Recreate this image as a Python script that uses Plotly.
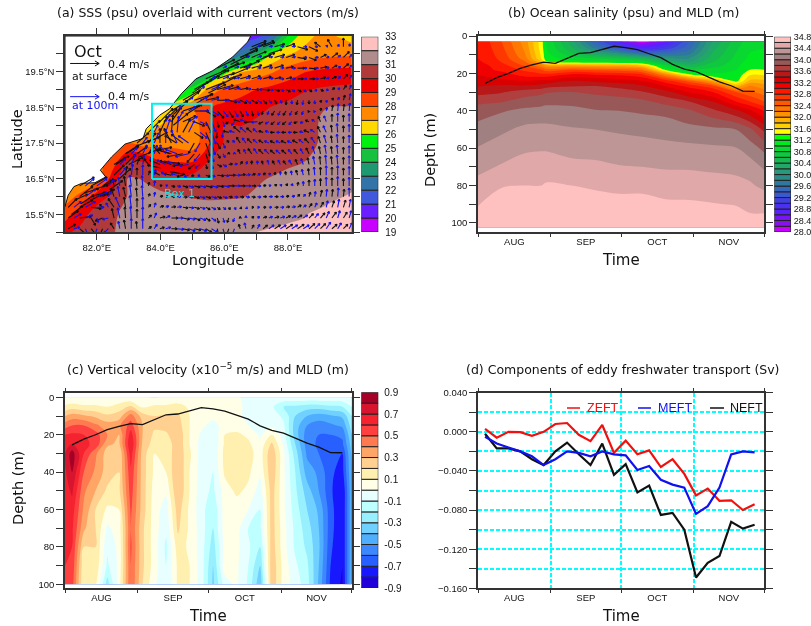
import plotly.graph_objects as go

W, H = 811, 626

# ---------- panel (a): SSS and currents ----------
SSS_LON = [81, 81.5, 82, 82.5, 83, 83.5, 84, 84.5, 85, 85.5, 86, 86.5, 87, 87.5, 88, 88.5, 89, 89.5, 90]
SSS_LAT = [15, 15.5, 16, 16.5, 17, 17.5, 18, 18.5, 19, 19.5, 20, 20.5]
SSS = [
 [29.8,30.3,30.7,30.95,31.3,31.4,31.45,31.5,31.5,31.55,31.6,31.7,32.0,32.1,32.2,32.2,32.3,32.4,32.5],
 [28.5,29.6,30.5,30.95,31.1,31.3,31.4,31.4,31.4,31.4,31.5,31.5,31.6,31.7,31.8,31.95,32.2,32.4,32.5],
 [27.5,28.3,29.5,30.2,31.1,31.2,31.2,31.1,30.95,30.9,30.9,30.95,31.1,31.2,31.3,31.4,31.6,31.9,32.1],
 [27,27,27.5,29.5,31.1,30.95,30.6,30.4,30.4,30.4,30.5,30.7,30.9,31.05,31.2,31.3,31.4,31.6,31.7],
 [27,27,27.5,28.5,30.1,29.9,29.0,28.9,28.9,30.0,30.3,30.5,30.6,30.7,30.85,30.98,31.2,31.4,31.5],
 [27,27,27,27.5,28,27.5,27.7,27.6,27.4,28.9,30.1,30.25,30.3,30.4,30.5,30.7,31.05,31.2,31.3],
 [26,26,26,26,26,26.5,27,27.5,27.4,28.8,30.05,29.98,30.2,30.3,30.4,30.6,31.05,31.1,31.2],
 [25,25,25,25,25,25,26,27,27.8,28.9,29.3,29.5,29.7,30.05,30.3,30.5,30.95,31.05,31.05],
 [23,23,23,23,23,23,23,24,25.5,27.3,28.2,28.6,29.0,29.3,29.5,29.9,30.1,30.2,30.3],
 [22,22,22,22,22,22,22,22,22,23.5,25.6,26.9,27.4,27.9,28.5,28.95,29.2,29.3,29.3],
 [21,21,21,21,21,21,21,21,21,21,21,22.5,24,26,26.9,27.3,27.6,27.75,27.8],
 [20,20,20,20,20,20,20,20,20,20,20,20,20.5,22,25,26.6,27.2,27,26.5],
]
SSS_LEVELS = list(range(19, 34))
SSS_COLORS = ["#C800FF","#6A1FFF","#3F58DC","#3274A8","#1F9A70","#18C040","#00F010","#FFD800",
              "#FF8800","#FF4400","#EE0000","#B03A3A","#B08C8C","#FFC0C0"]
COAST_LON = [81.0,81.1,81.28,81.52,81.94,82.28,82.11,82.46,82.88,83.45,83.55,83.97,84.28,84.65,85.11,85.64,86.26,86.73,86.83]
COAST_LAT = [15.72,16.04,16.28,16.37,16.39,16.55,16.74,17.11,17.47,17.63,17.9,18.28,18.46,18.88,19.3,19.53,19.91,20.33,20.5]

VEC_LON = [81.1,81.46,81.82,82.18,82.54,82.9,83.26,83.62,83.98,84.34,84.7,85.06,85.42,85.78,86.14,86.5,86.86,87.22,87.58,87.94,88.3,88.66,89.02,89.38,89.74]
DEEP_LON = [81.28,81.64,82.0,82.36,82.72,83.08,83.44,83.8,84.16,84.52,84.88,85.24,85.6,85.96,86.32,86.68,87.04,87.4,87.76,88.12,88.48,88.84,89.2,89.56,89.92]
VEC_LAT = [15.1,15.4,15.7,16.0,16.3,16.6,16.9,17.2,17.5,17.8,18.1,18.4,18.7,19.0,19.3,19.6,19.9,20.2]
# current components in cm/s; 0,0 marks land
U_SURF = [
 [10,14,12,-6,-5,-2,-1,4,6,8,9,9,8,2,-4,-2,3,6,8,9,9,8,7,7,6],
 [14,16,6,-10,-3,-1,0,4,7,9,9,8,6,2,-2,0,3,5,6,6,6,6,6,6,5],
 [12,18,14,-4,-8,-2,0,3,5,6,7,7,6,4,2,2,3,4,5,5,5,4,4,3,3],
 [0,18,20,8,-4,-3,-1,2,4,5,6,7,7,6,5,5,5,5,5,4,3,2,2,1,1],
 [0,20,22,12,-2,-2,-1,1,3,5,7,8,9,9,8,7,6,4,3,2,1,0,0,0,0],
 [0,0,0,0,14,2,0,2,-8,-10,-8,-4,6,9,9,7,5,3,1,-1,-2,-1,0,0,0],
 [0,0,0,0,16,14,3,-6,-14,-16,-14,-8,2,6,5,3,0,-2,-3,-4,-3,-2,-1,-1,0],
 [0,0,0,0,0,18,14,6,-10,-20,-22,-10,4,4,0,-3,-5,-6,-6,-6,-5,-4,-2,-1,0],
 [0,0,0,0,0,0,16,10,0,-10,-16,-8,6,4,-2,-5,-6,-6,-6,-7,-7,-6,-3,-1,0],
 [0,0,0,0,0,0,0,16,10,2,10,12,8,-1,-8,-9,-7,-6,-6,-6,-6,-7,-4,-1,0],
 [0,0,0,0,0,0,0,0,18,14,18,14,8,2,-4,-9,-10,-6,-5,-5,-5,-5,-3,0,0],
 [0,0,0,0,0,0,0,0,0,22,24,20,14,9,6,4,2,-2,-4,-4,-3,-1,1,1,1],
 [0,0,0,0,0,0,0,0,0,0,24,24,18,14,11,9,8,5,3,0,-1,0,1,2,2],
 [0,0,0,0,0,0,0,0,0,0,0,24,26,22,14,11,10,9,7,6,5,4,4,4,4],
 [0,0,0,0,0,0,0,0,0,0,0,0,28,24,18,14,12,11,9,8,8,8,7,6,6],
 [0,0,0,0,0,0,0,0,0,0,0,0,0,24,22,16,14,12,12,10,10,10,9,7,7],
 [0,0,0,0,0,0,0,0,0,0,0,0,0,0,0,24,20,16,14,12,12,10,8,8,8],
 [0,0,0,0,0,0,0,0,0,0,0,0,0,0,0,0,20,16,14,12,14,12,-8,-6,0],
]
V_SURF = [
 [6,-12,-14,-14,8,12,10,3,2,0,-2,-2,-5,-10,-12,6,5,5,5,6,6,7,7,6,6],
 [10,2,-10,-4,13,15,12,4,2,0,-2,-3,-4,-7,-6,2,2,2,2,3,4,6,7,8,8],
 [12,10,-2,4,12,14,12,4,2,1,-1,-2,-3,-3,-3,-2,0,0,0,1,3,5,7,9,10],
 [0,14,6,4,11,13,12,4,1,0,-1,-2,-2,-2,-1,-1,-1,0,0,1,3,6,9,10,10],
 [0,12,12,8,10,13,12,5,1,-1,-2,-2,-2,-1,0,0,0,1,2,3,5,8,10,11,10],
 [0,0,0,0,14,12,10,6,4,2,-2,-1,-2,-1,0,1,2,3,4,5,7,9,11,11,10],
 [0,0,0,0,10,14,8,8,6,5,-2,-6,-6,-3,1,4,5,5,5,5,7,9,11,11,10],
 [0,0,0,0,0,12,10,10,12,6,-4,-12,-12,-6,2,6,7,6,5,5,6,8,10,10,9],
 [0,0,0,0,0,0,14,14,20,20,12,-14,-18,-8,4,8,6,4,3,3,4,6,9,10,9],
 [0,0,0,0,0,0,0,16,22,24,18,-8,-18,-8,2,8,6,2,0,0,0,3,8,10,9],
 [0,0,0,0,0,0,0,0,18,20,8,-6,-16,-8,-3,3,-1,-3,-4,-4,-2,2,7,10,9],
 [0,0,0,0,0,0,0,0,0,14,8,0,-8,-10,-9,-8,-7,-5,-6,-6,-5,-2,4,8,9],
 [0,0,0,0,0,0,0,0,0,0,14,8,4,0,-3,-4,-4,-5,-5,-6,-6,-5,-3,3,7],
 [0,0,0,0,0,0,0,0,0,0,0,14,10,6,4,2,0,-1,-2,-3,-3,-3,-2,2,6],
 [0,0,0,0,0,0,0,0,0,0,0,0,12,8,6,4,4,3,2,2,0,0,2,3,6],
 [0,0,0,0,0,0,0,0,0,0,0,0,0,12,8,6,4,4,4,2,0,-1,2,4,6],
 [0,0,0,0,0,0,0,0,0,0,0,0,0,0,0,10,8,6,4,4,-2,-4,4,6,8],
 [0,0,0,0,0,0,0,0,0,0,0,0,0,0,0,0,8,6,4,4,-4,-6,6,10,12],
]
U_DEEP = [
 [8,4,-3,-6,-2,0,0,4,7,9,9,9,8,3,-4,-2,3,7,8,8,8,7,6,5,4],
 [10,10,2,-8,-3,-1,0,3,6,8,9,8,6,2,-2,0,3,5,6,6,6,5,4,3,3],
 [10,14,10,-3,-6,-2,0,2,4,6,7,7,6,4,2,2,3,4,5,5,4,3,2,2,2],
 [0,14,14,4,-3,-2,-1,1,3,5,6,7,7,6,5,5,5,5,5,4,3,1,1,1,0],
 [0,12,14,8,-2,-2,-1,1,3,5,7,8,9,9,8,7,5,3,2,1,0,0,0,0,0],
 [0,0,0,0,8,2,0,2,-6,-8,-6,-3,5,8,8,6,4,2,0,-1,-2,-1,0,0,0],
 [0,0,0,0,8,6,2,-5,-12,-14,-12,-7,2,5,4,2,0,-2,-3,-4,-3,-2,-1,-1,0],
 [0,0,0,0,0,8,6,4,-8,-16,-18,-8,3,3,0,-3,-5,-6,-6,-5,-4,-3,-2,-1,0],
 [0,0,0,0,0,0,6,6,0,-8,-14,-7,5,3,-2,-5,-6,-6,-6,-6,-6,-5,-3,-1,0],
 [0,0,0,0,0,0,0,5,6,2,8,10,6,-1,-7,-8,-6,-5,-5,-5,-5,-6,-4,-1,0],
 [0,0,0,0,0,0,0,0,6,8,12,11,6,2,-4,-8,-8,-5,-4,-4,-4,-4,-3,0,0],
 [0,0,0,0,0,0,0,0,0,6,10,12,10,7,5,3,2,-2,-3,-3,-2,-1,1,1,1],
 [0,0,0,0,0,0,0,0,0,0,6,10,10,9,8,7,6,4,2,0,-1,0,1,2,2],
 [0,0,0,0,0,0,0,0,0,0,0,6,10,10,8,7,7,6,5,4,4,3,3,3,3],
 [0,0,0,0,0,0,0,0,0,0,0,0,6,8,7,6,6,6,5,5,5,5,4,4,4],
 [0,0,0,0,0,0,0,0,0,0,0,0,0,5,6,6,5,5,5,5,5,5,4,4,4],
 [0,0,0,0,0,0,0,0,0,0,0,0,0,0,0,5,6,5,5,5,5,5,4,4,4],
 [0,0,0,0,0,0,0,0,0,0,0,0,0,0,0,0,4,5,5,5,5,4,2,2,1],
]
V_DEEP = [
 [2,-10,-10,-6,10,14,14,6,2,-1,-3,-3,-5,-10,-10,8,6,5,5,5,5,7,9,8,8],
 [6,4,-6,-2,14,16,15,7,3,0,-2,-3,-4,-6,-5,3,2,2,2,3,4,6,9,10,10],
 [8,8,0,6,14,16,14,6,2,1,-1,-2,-3,-3,-3,-2,0,0,0,1,3,6,9,11,11],
 [0,10,6,6,14,16,15,6,1,0,-1,-2,-2,-2,-1,-1,-1,0,0,1,3,7,10,12,12],
 [0,10,10,8,12,15,14,7,1,-1,-2,-2,-2,-1,0,0,0,1,2,3,6,9,12,13,12],
 [0,0,0,0,10,15,14,8,4,2,-2,-1,-2,-1,0,1,2,3,5,6,8,11,13,13,12],
 [0,0,0,0,8,14,12,10,6,4,-2,-5,-6,-3,1,4,5,6,6,6,8,11,13,13,12],
 [0,0,0,0,0,8,12,12,12,6,-4,-10,-11,-5,2,6,7,6,5,6,7,10,12,12,11],
 [0,0,0,0,0,0,8,14,18,18,10,-12,-16,-7,4,7,5,3,3,3,5,8,11,12,11],
 [0,0,0,0,0,0,0,10,18,22,16,-8,-16,-7,2,7,5,2,0,0,1,4,9,12,11],
 [0,0,0,0,0,0,0,0,10,14,7,-5,-14,-7,-5,3,-1,-3,-4,-4,-2,3,8,12,11],
 [0,0,0,0,0,0,0,0,0,6,6,0,-6,-8,-8,-7,-6,-5,-6,-6,-5,-2,5,10,11],
 [0,0,0,0,0,0,0,0,0,0,4,4,2,0,-3,-4,-4,-4,-4,-5,-6,-5,-3,4,9],
 [0,0,0,0,0,0,0,0,0,0,0,4,4,3,2,1,0,-1,-2,-3,-3,-2,-1,2,6],
 [0,0,0,0,0,0,0,0,0,0,0,0,3,3,2,2,1,1,0,0,0,0,2,3,5],
 [0,0,0,0,0,0,0,0,0,0,0,0,0,3,2,2,1,1,1,0,0,0,1,2,4],
 [0,0,0,0,0,0,0,0,0,0,0,0,0,0,0,2,2,1,1,1,0,0,1,3,4],
 [0,0,0,0,0,0,0,0,0,0,0,0,0,0,0,0,2,1,1,1,0,0,2,3,4],
]
# extra near-shore surface vectors, where the reference's arrows crowd along the coast
SHORE_LON = [81.2,81.5,81.8,82.1,82.4,82.7,81.3,81.6,81.9,82.2,82.6,82.9,83.2,83.5,83.8,83.0,83.3,83.6,
             84.1,84.4,84.7,85.0,85.3,85.6,85.9,86.2,86.5,86.8,87.1,84.4,84.8,85.1,85.5,85.8,86.2,86.6,87.0,87.4,
             83.9,84.1,84.3,84.0,84.3,84.5]
SHORE_LAT = [15.5,15.8,15.9,16.0,16.2,16.5,15.9,16.1,16.2,16.3,16.9,17.2,17.4,17.5,17.6,16.9,17.1,17.2,
             18.1,18.3,18.6,18.9,19.1,19.3,19.5,19.7,19.9,20.1,20.2,18.0,18.3,18.6,18.9,19.1,19.4,19.6,19.8,20.0,
             17.3,17.0,16.7,16.8,17.2,17.5]
SHORE_U = [16,18,20,20,18,16,18,20,20,18,18,18,20,20,18,20,20,18,
           18,20,22,22,24,24,24,24,24,22,20,20,22,24,24,24,24,22,20,18,
           20,22,20,-18,-20,-16]
SHORE_V = [12,12,10,10,12,14,8,6,6,8,12,10,8,8,10,10,8,8,
           18,18,16,16,14,12,12,12,12,10,8,16,14,14,12,12,10,10,8,6,
           4,-4,-4,4,6,10]

# ---------- time series shared by (b)(c)(d) ----------
DAYS = [3,8,13,18,23,28,33,38,43,48,53,58,63,68,73,78,83,88,93,98,103,108,113,118]
MLD = [25.4,22.3,20,17.3,15.5,14,14.6,12,9.3,8.9,7.1,5.5,6.2,7.3,9.5,11.6,15.2,17.7,19.1,21.8,24.5,26.6,29.5,29.6]
MONTH_EDGES = [0,31,61,92,122]
MONTH_MIDS = [15.5,46,76.5,107]
MONTHS = ["AUG","SEP","OCT","NOV"]

# ---------- panel (b): salinity ----------
SAL_T = [0,10,20,27,29,40,50,60,70,80,90,100,110,116,122]
SAL_D = [3,6,9,12,14,16,18,21,24,27,30,35,40,50,60,70,80,90,102.5]
SAL_COLS = [
 [33.0,33.0,33.0,33.0,33.05,33.1,33.1,33.2,33.3,33.4,33.52,33.75,33.9,34.08,34.21,34.34,34.47,34.59,34.72],
 [32.6,32.65,32.7,32.75,32.8,32.9,32.95,33.1,33.25,33.45,33.58,33.78,33.98,34.16,34.3,34.42,34.59,34.67,34.76],
 [32.1,32.15,32.2,32.3,32.45,32.6,32.75,32.95,33.2,33.45,33.7,33.88,34.05,34.25,34.37,34.48,34.6,34.68,34.77],
 [31.5,31.5,31.55,31.6,31.9,32.3,32.6,32.9,33.25,33.5,33.75,33.92,34.07,34.26,34.38,34.5,34.6,34.68,34.77],
 [31.2,31.22,31.25,31.3,31.45,32.1,32.5,32.9,33.25,33.55,33.78,33.95,34.07,34.26,34.38,34.5,34.62,34.7,34.78],
 [30.5,30.6,30.8,31.1,31.35,32.1,32.6,33.1,33.4,33.6,33.8,33.95,34.05,34.22,34.33,34.46,34.6,34.67,34.77],
 [29.6,29.9,30.4,31,31.3,32,32.55,33.05,33.35,33.62,33.75,33.92,34.01,34.2,34.33,34.44,34.58,34.66,34.77],
 [28.9,29.4,30.1,30.9,31.25,31.95,32.5,33,33.3,33.55,33.7,33.9,34,34.17,34.31,34.41,34.56,34.65,34.76],
 [28.2,28.9,29.7,30.7,31.2,31.8,32.35,32.9,33.2,33.45,33.62,33.85,33.97,34.15,34.28,34.4,34.56,34.65,34.76],
 [28.8,29.2,29.7,30.3,30.7,31.1,31.35,32.3,32.9,33.2,33.48,33.72,33.94,34.12,34.26,34.38,34.52,34.63,34.76],
 [29.6,29.7,29.9,30.2,30.4,30.7,31,31.5,32.5,32.95,33.2,33.6,33.83,34.07,34.25,34.38,34.5,34.63,34.75],
 [30.4,30.5,30.6,30.7,30.8,30.9,31.1,31.25,31.95,32.7,33,33.4,33.65,34.05,34.23,34.36,34.49,34.61,34.74],
 [30.9,30.95,31,31.05,31.1,31.15,31.2,31.25,31.3,31.9,32.6,33,33.45,34,34.21,34.34,34.47,34.59,34.74],
 [31.1,31.15,31.2,31.25,31.3,31.35,31.4,31.6,31.85,32.25,32.45,32.8,33.25,33.85,34.1,34.3,34.43,34.54,34.7],
 [31.2,31.2,31.22,31.25,31.3,31.35,31.4,31.6,31.85,32.1,32.3,32.6,33,33.55,33.95,34.17,34.35,34.55,34.68],
]
SAL_LEVELS = [round(28 + 0.2*i, 1) for i in range(35)]
SAL_COLORS = ["#C800FF","#8A10F0","#7A14F8","#5A20FF","#4A30F0","#4040E0","#3A58D0","#3568B8","#2E78A0",
              "#2A8A88","#289A78","#20A868","#18B850","#10C840","#08D830","#00E820","#00FF00","#FFFF00",
              "#FFD000","#FFB000","#FF9000","#FF7800","#FF5800","#FF3800","#FF1800","#F00000","#D80000",
              "#B81818","#B04040","#985858","#A08080","#BE9696","#E0A8A8","#FFC0C0"]

# ---------- panel (c): vertical velocity ----------
W_T = [0,3,8,13,18,23,28,33,38,43,48,53,58,63,68,73,78,83,88,93,98,103,108,113,118,122]
W_D = [0,5,10,15,20,25,30,40,50,60,70,80,90,100]
W_VEL = [
 [.01,.01,.01,.01,.01,.01,.01,.01,-.01,.01,.01,.01,.01,.01,.01,.01,-.02,-.02,-.02,-.02,-.02,-.02,-.02,-.02,-.02,-.02],
 [.12,.15,.12,.12,.1,.15,.22,.08,.12,.12,.15,.08,.05,.05,.05,.02,-.02,-.05,-.08,-.2,-.22,-.25,-.25,-.22,-.2,-.1],
 [.3,.35,.32,.28,.22,.25,.45,.25,.2,.22,.22,.1,.05,.04,.04,.02,-.02,-.03,-.05,-.12,-.3,-.4,-.45,-.42,-.38,-.2],
 [.45,.5,.5,.42,.35,.38,.55,.3,.22,.24,.25,.1,.03,-.05,.06,.05,0,-.02,-.03,-.08,-.35,-.5,-.55,-.52,-.48,-.25],
 [.6,.62,.6,.55,.4,.3,.65,.3,.18,.18,.28,.1,-.02,-.08,.1,.12,.08,-.02,.1,-.05,-.35,-.55,-.6,-.6,-.58,-.3],
 [.62,.7,.62,.58,.32,.28,.7,.28,.15,.12,.28,.1,-.04,-.1,.12,.15,.12,.03,.22,-.02,-.3,-.55,-.62,-.68,-.62,-.35],
 [.7,.85,.6,.42,.25,.2,.65,.25,.1,.12,.28,.12,-.05,-.1,.14,.15,.14,.05,.28,.02,-.25,-.52,-.6,-.7,-.7,-.38],
 [.68,.8,.5,.38,.25,.2,.58,.25,.08,.1,.3,.1,-.05,-.1,.12,.15,.12,.02,.28,.02,-.2,-.45,-.52,-.68,-.74,-.4],
 [.65,.72,.42,.3,.18,.18,.55,.25,.06,.02,.3,.1,-.06,-.12,.05,.12,.08,-.05,.25,.02,-.18,-.35,-.5,-.68,-.8,-.42],
 [.62,.65,.38,.2,.08,.1,.52,.25,.05,-.05,.25,.08,-.06,-.18,.05,.05,0,-.1,.25,.02,-.15,-.3,-.42,-.66,-.8,-.42],
 [.62,.62,.32,.2,-.02,.05,.5,.22,.05,-.08,.22,.08,-.05,-.2,.05,.04,-.1,-.12,.25,.04,-.13,-.25,-.4,-.66,-.8,-.42],
 [.6,.6,.2,.2,-.08,.03,.52,.22,.05,-.12,.15,.08,-.05,-.25,.04,.03,-.08,-.2,.26,.04,-.12,-.22,-.38,-.68,-.8,-.42],
 [.6,.58,.12,.18,-.12,.03,.5,.22,.05,-.1,.12,.1,-.05,-.3,.05,.02,-.1,-.3,.28,.06,-.08,-.18,-.4,-.7,-.8,-.42],
 [.58,.55,.1,.12,-.25,.05,.5,.2,.02,-.1,.12,.1,-.05,-.32,-.05,.02,-.12,-.38,.28,.06,-.05,-.15,-.42,-.72,-.82,-.4],
]
W_LEVELS = [round(-0.9 + 0.1*i, 1) for i in range(19)]
W_COLORS = ["#2000D8","#1818FF","#2860FF","#3D88FF","#50AEFF","#70D0FF","#98F0FF","#BEFFFF","#E8FFFF",
            "#FFFFE8","#FFF0B0","#FFD090","#FFA666","#FF7A50","#FF4040","#F5232F","#D7152F","#A50026"]

# ---------- panel (d): freshwater transport ----------
ZEFT = [.003,-.006,0,-.0003,-.004,0,.008,.009,-.003,-.0095,.007,-.0215,-.009,-.023,-.019,-.036,-.028,-.043,-.065,-.058,-.0705,-.07,-.08,-.074]
MEFT = [-.005,-.012,-.016,-.02,-.025,-.034,-.028,-.02,-.0215,-.025,-.02,-.023,-.024,-.039,-.035,-.049,-.054,-.057,-.084,-.076,-.057,-.023,-.02,-.021]
NEFT = [-.002,-.017,-.017,-.02,-.028,-.034,-.02,-.011,-.023,-.034,-.012,-.044,-.033,-.062,-.055,-.085,-.083,-.1,-.149,-.134,-.127,-.092,-.099,-.095]

TITLE_FONT = "DejaVu Sans"
TICK_FONT = "Liberation Sans"
FRAME = "#333333"
CYAN = "#00FFFF"

def dom_x(a, b): return [a / W, b / W]
def dom_y(top, bottom): return [1 - bottom / H, 1 - top / H]

def step_scale(colors):
    # one flat segment per band between zmin and zmax
    n = len(colors)
    out = []
    for k, c in enumerate(colors):
        out.append([k / n, c])
        out.append([(k + 1) / n, c])
    return out

def step_scale_sal(colors):
    # the 0.2 psu levels land one band higher in plotly's colour lookup, so this scale is offset to compensate
    n = len(colors)
    seq = [colors[0], colors[0]] + list(colors)
    out = []
    for k, c in enumerate(seq):
        out.append([max(0, (k - 0.5) / (n + 1)), c])
        out.append([min(1, (k + 0.5) / (n + 1)), c])
    return out

def add_arrow(xs, ys, lon, lat, u, v, scale, head):
    dx, dy = u * scale, v * scale
    L = (dx * dx + dy * dy) ** 0.5 or 1
    ex, ey = lon + dx / 32, lat + dy / 35.8
    ux, uy = dx / L, dy / L
    xs += [lon, ex, None]
    ys += [lat, ey, None]
    for sgn in (1, -1):
        hx = -ux * 0.85 - sgn * uy * 0.5
        hy = -uy * 0.85 + sgn * ux * 0.5
        xs += [ex, ex + hx * head / 32, None]
        ys += [ey, ey + hy * head / 35.8, None]

def arrows(lons, U, V, scale=0.73, head=2.4):
    xs, ys = [], []
    for j, lat in enumerate(VEC_LAT):
        for i, lon in enumerate(lons):
            u, v = U[j][i], V[j][i]
            if u == 0 and v == 0:
                continue
            add_arrow(xs, ys, lon, lat, u, v, scale, head)
    return xs, ys

def bar_scale(levels, colors, xa, ya):
    n = len(colors)
    return go.Bar(x=[0.5] * n, y=[levels[i + 1] - levels[i] for i in range(n)], base=levels[:-1],
                  width=1, marker=dict(color=colors, line=dict(color="#222222", width=1)),
                  xaxis=xa, yaxis=ya, showlegend=False, hoverinfo="skip")

fig = go.Figure()

# (a)
fig.add_trace(go.Contour(x=SSS_LON, y=SSS_LAT, z=SSS, xaxis="x", yaxis="y", showscale=False,
                         colorscale=step_scale(SSS_COLORS), zmin=19, zmax=33,
                         contours=dict(start=19, end=33, size=1, coloring="fill", showlines=False),
                         line=dict(width=0), hoverinfo="skip"))
fig.add_trace(go.Scatter(x=COAST_LON + [COAST_LON[-1], 81, 81], y=COAST_LAT + [20.5, 20.5, COAST_LAT[0]],
                         mode="lines", fill="toself", fillcolor="white", line=dict(color="#111111", width=1),
                         xaxis="x", yaxis="y", showlegend=False, hoverinfo="skip"))
dx_, dy_ = arrows(DEEP_LON, U_DEEP, V_DEEP)
sx, sy = arrows(VEC_LON, U_SURF, V_SURF)
for lon, lat, u, v in zip(SHORE_LON, SHORE_LAT, SHORE_U, SHORE_V):
    add_arrow(sx, sy, lon, lat, u, v, 0.73, 2.4)
fig.add_trace(go.Scatter(x=sx, y=sy, mode="lines", line=dict(color="#111111", width=1.1),
                         xaxis="x", yaxis="y", showlegend=False, hoverinfo="skip"))
fig.add_trace(go.Scatter(x=dx_, y=dy_, mode="lines", line=dict(color="#1010F0", width=1.1),
                         xaxis="x", yaxis="y", showlegend=False, hoverinfo="skip"))
for lat_ref, col in ((19.73, "#111111"), (18.8, "#1010F0")):
    kx, ky = [], []
    add_arrow(kx, ky, 81.16, lat_ref, 40, 0, 0.73, 5)
    fig.add_trace(go.Scatter(x=kx, y=ky, mode="lines", line=dict(color=col, width=1),
                             xaxis="x", yaxis="y", showlegend=False, hoverinfo="skip"))
fig.add_trace(go.Scatter(x=[83.73, 85.6, 85.6, 83.73, 83.73], y=[16.49, 16.49, 18.6, 18.6, 16.49], mode="lines",
                         line=dict(color="#00F0F0", width=2), xaxis="x", yaxis="y", showlegend=False, hoverinfo="skip"))
fig.add_trace(bar_scale(SSS_LEVELS, SSS_COLORS, "x2", "y2"))

# (b)
SAL_ROWS = [[col[r] for col in SAL_COLS] for r in range(len(SAL_D))]
fig.add_trace(go.Contour(x=SAL_T, y=SAL_D, z=SAL_ROWS, xaxis="x3", yaxis="y3", showscale=False,
                         colorscale=step_scale_sal(SAL_COLORS), zmin=28, zmax=34.8,
                         contours=dict(start=28, end=34.8, size=0.2, coloring="fill", showlines=False),
                         line=dict(width=0), hoverinfo="skip"))
fig.add_trace(go.Scatter(x=DAYS, y=MLD, mode="lines", line=dict(color="#111111", width=1.3),
                         xaxis="x3", yaxis="y3", showlegend=False, hoverinfo="skip"))
fig.add_trace(bar_scale(SAL_LEVELS, SAL_COLORS, "x4", "y4"))

# (c)
fig.add_trace(go.Contour(x=W_T, y=W_D, z=W_VEL, xaxis="x5", yaxis="y5", showscale=False,
                         colorscale=step_scale(W_COLORS), zmin=-0.9, zmax=0.9,
                         contours=dict(start=-0.9, end=0.9, size=0.1, coloring="fill", showlines=False),
                         line=dict(width=0), hoverinfo="skip"))
fig.add_trace(go.Scatter(x=DAYS, y=MLD, mode="lines", line=dict(color="#111111", width=1.3),
                         xaxis="x5", yaxis="y5", showlegend=False, hoverinfo="skip"))
fig.add_trace(bar_scale(W_LEVELS, W_COLORS, "x6", "y6"))

# (d)
for name, vals, col in (("NEFT", NEFT, "#111111"), ("ZEFT", ZEFT, "#F01010"), ("MEFT", MEFT, "#1010F0")):
    fig.add_trace(go.Scatter(x=DAYS, y=vals, mode="lines", name=name, line=dict(color=col, width=2.2),
                             xaxis="x7", yaxis="y7", showlegend=False))

tick_f = dict(family=TICK_FONT, size=9.5, color="#111111")
frame = dict(showline=True, linecolor=FRAME, linewidth=1.5, mirror="ticks", ticks="outside", automargin=False,
             tickcolor=FRAME, tickwidth=1.2, zeroline=False, showgrid=False, tickfont=tick_f)

def minor_ticks(vals, ticklen, grid=False):
    return dict(tickmode="array", tickvals=vals, ticks="outside", ticklen=ticklen, tickcolor=FRAME, tickwidth=1.2,
                showgrid=grid, gridcolor=CYAN, griddash="4px,2px", gridwidth=1.5)

def time_axis(dom, anchor, grid=False):
    d = dict(frame, domain=dom, anchor=anchor, range=[0, 122], tickmode="array", tickvals=MONTH_MIDS, ticktext=MONTHS,
             ticklen=0, ticks="", minor=minor_ticks(MONTH_EDGES, 3, grid))
    return d

def bar_axes(xdom, ydom, xa, ya, lo, hi, tvals, ttext, gap, size=10):
    x = dict(domain=xdom, anchor=ya, range=[0, 1], showticklabels=False, ticks="", showgrid=False, zeroline=False, automargin=False)
    y = dict(domain=ydom, anchor=xa, range=[lo, hi], side="right", tickmode="array", tickvals=tvals, ticktext=ttext, automargin=False,
             ticks="outside", ticklen=gap, tickcolor="rgba(0,0,0,0)", showgrid=False, zeroline=False,
             tickfont=dict(family=TICK_FONT, size=size, color="#111111"))
    return x, y

LAT_LAB = [15.5, 16.5, 17.5, 18.5, 19.5]
LAT_MIN = [15, 16, 17, 18, 19, 20]
LON_LAB = [82, 84, 86, 88]
LON_MIN = [83, 85, 87, 89]
DEPTH_LAB = [0, 20, 40, 60, 80, 100]
DEPTH_MIN = [10, 30, 50, 70, 90]
FW_LAB = [0.04, 0.0, -0.04, -0.08, -0.12, -0.16]
FW_TEXT = ["0.040", "0.000", "−0.040", "−0.080", "−0.120", "−0.160"]
FW_MIN = [0.02, -0.02, -0.06, -0.1, -0.14]

ax2, ay2 = bar_axes(dom_x(361.3, 378.3), dom_y(36.7, 232), "x2", "y2", 19, 33, SSS_LEVELS, [str(v) for v in SSS_LEVELS], 4)
sal_tv = SAL_LEVELS[::2]
ax4, ay4 = bar_axes(dom_x(774.3, 791), dom_y(36.7, 232), "x4", "y4", 28, 34.8, sal_tv, [f"{v:.1f}" for v in sal_tv], 0, 9)
w_tv = [-.9, -.7, -.5, -.3, -.1, .1, .3, .5, .7, .9]
ax6, ay6 = bar_axes(dom_x(361.3, 378.3), dom_y(392.3, 588), "x6", "y6", -0.9, 0.9, w_tv, ["-0.9","-0.7","-0.5","-0.3","-0.1","0.1","0.3","0.5","0.7","0.9"], 3)

xa = dict(frame, domain=dom_x(65, 351.7), anchor="y", range=[81, 90], tickmode="array", tickvals=LON_LAB,
          ticktext=[f"{v}.0°E" for v in LON_LAB], ticklen=6, minor=minor_ticks(LON_MIN, 6))
ya = dict(frame, domain=dom_y(36, 232.3), anchor="x", range=[15, 20.5], tickmode="array", tickvals=LAT_LAB,
          ticktext=[f"{v}°N" for v in LAT_LAB], ticklen=7, minor=minor_ticks(LAT_MIN, 7))
xb = time_axis(dom_x(478, 764), "y3")
yb = dict(frame, domain=dom_y(36, 232.3), anchor="x3", range=[105, 0], tickmode="array", tickvals=DEPTH_LAB,
          ticktext=[str(v) for v in DEPTH_LAB], ticklen=7, minor=minor_ticks(DEPTH_MIN, 7))
xc = time_axis(dom_x(65, 351.7), "y5")
yc = dict(frame, domain=dom_y(392.7, 588.3), anchor="x5", range=[102.1, -2.5], tickmode="array", tickvals=DEPTH_LAB,
          ticktext=[str(v) for v in DEPTH_LAB], ticklen=7, minor=minor_ticks(DEPTH_MIN, 7))
xd = time_axis(dom_x(478, 764), "y7", grid=True)
yd = dict(frame, domain=dom_y(392.7, 588.3), anchor="x7", range=[-0.16, 0.04], tickmode="array", tickvals=FW_LAB,
          ticktext=FW_TEXT, ticklen=7, minor=minor_ticks(FW_MIN, 7, grid=True))
yd.update(showgrid=True, gridcolor=CYAN, griddash="4px,2px", gridwidth=1.5)

def txt(px, py, s, size=12, color="#111111", family=TITLE_FONT, angle=0, anchor="center"):
    return dict(x=px / W, y=1 - py / H, xref="paper", yref="paper", text=s, showarrow=False, textangle=angle,
                xanchor=anchor, yanchor="middle", font=dict(family=family, size=size, color=color))

annotations = [
    txt(208, 13, "(a) SSS (psu) overlaid with current vectors (m/s)", 12.5),
    txt(623, 13, "(b) Ocean salinity (psu) and MLD (m)", 12.5),
    txt(208, 369, "(c) Vertical velocity (x10<sup>−5</sup> m/s) and MLD (m)", 12.5),
    txt(622, 369, "(d) Components of eddy freshwater transport (Sv)", 12.5),
    txt(208, 260, "Longitude", 14.5),
    txt(17, 139, "Latitude", 14.5, angle=-90),
    txt(621, 260, "Time", 15),
    txt(430, 150, "Depth (m)", 14.5, angle=-90),
    txt(208, 616, "Time", 15),
    txt(18, 488, "Depth (m)", 14.5, angle=-90),
    txt(621, 616, "Time", 15),
    txt(72, 51, "Oct", 16, anchor="left"),
    txt(106, 64, "0.4 m/s", 11, anchor="left"),
    txt(70, 77, "at surface", 11, anchor="left"),
    txt(106, 96, "0.4 m/s", 11, anchor="left"),
    txt(70, 106, "at 100m", 11, color="#1010F0", anchor="left"),
    txt(179, 194, "Box 1", 11, color="#20E0E0"),
    txt(585, 408, "ZEFT", 12.5, color="#F01010", family=TICK_FONT, anchor="left"),
    txt(656, 408, "MEFT", 12.5, color="#1010F0", family=TICK_FONT, anchor="left"),
    txt(728, 408, "NEFT", 12.5, color="#111111", family=TICK_FONT, anchor="left"),
]
def key(x0, x1, col):
    return dict(type="line", xref="paper", yref="paper", x0=x0 / W, x1=x1 / W, y0=1 - 408 / H, y1=1 - 408 / H,
                line=dict(color=col, width=1.5))
shapes = [key(567, 580, "#F01010"), key(638, 651, "#1010F0"), key(710, 724, "#111111")]

fig.update_layout(width=W, height=H, autosize=False, margin=dict(l=0, r=0, t=0, b=0, autoexpand=False),
                  paper_bgcolor="white", plot_bgcolor="white", showlegend=False,
                  xaxis=xa, yaxis=ya, xaxis2=ax2, yaxis2=ay2, xaxis3=xb, yaxis3=yb, xaxis4=ax4, yaxis4=ay4,
                  xaxis5=xc, yaxis5=yc, xaxis6=ax6, yaxis6=ay6, xaxis7=xd, yaxis7=yd,
                  annotations=annotations, shapes=shapes)

fig.write_html("out.html", config=dict(displayModeBar=False),
               post_script="document.body.style.margin='0';document.querySelector('.plot-container').style.filter='blur(0.4px)';")
